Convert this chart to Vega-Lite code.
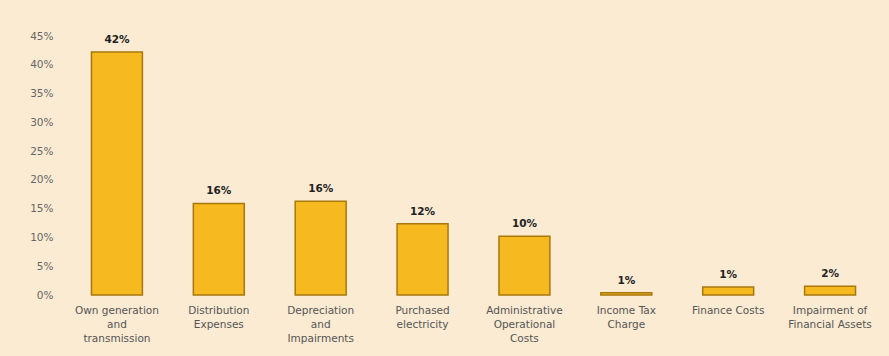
{
  "$schema": "https://vega.github.io/schema/vega-lite/v6.json",
  "autosize": "none",
  "width": 815,
  "height": 259,
  "padding": {"left": 66, "top": 36, "right": 8, "bottom": 61},
  "background": "#FBEBD2",
  "data": {
    "values": [
      {"category": "Own generation|and|transmission", "value": 42.2, "label": "42%"},
      {"category": "Distribution|Expenses", "value": 15.9, "label": "16%"},
      {"category": "Depreciation|and|Impairments", "value": 16.3, "label": "16%"},
      {"category": "Purchased|electricity", "value": 12.4, "label": "12%"},
      {"category": "Administrative|Operational|Costs", "value": 10.2, "label": "10%"},
      {"category": "Income Tax|Charge", "value": 0.4, "label": "1%"},
      {"category": "Finance Costs", "value": 1.4, "label": "1%"},
      {"category": "Impairment of|Financial Assets", "value": 1.5, "label": "2%"}
    ]
  },
  "config": {
    "view": {"stroke": null},
    "font": "DejaVu Sans"
  },
  "encoding": {
    "x": {
      "field": "category",
      "type": "nominal",
      "sort": null,
      "scale": {"paddingInner": 0.5, "paddingOuter": 0.25},
      "axis": {
        "title": null,
        "labelAngle": 0,
        "labelExpr": "split(datum.label, '|')",
        "labelColor": "#555555",
        "labelFontSize": 10.5,
        "labelLineHeight": 14,
        "labelPadding": 10,
        "labelBaseline": "top",
        "domain": false,
        "ticks": false
      }
    },
    "y": {
      "field": "value",
      "type": "quantitative",
      "scale": {"domain": [0, 45], "nice": false},
      "axis": {
        "title": null,
        "values": [0, 5, 10, 15, 20, 25, 30, 35, 40, 45],
        "labelExpr": "datum.value + '%'",
        "labelColor": "#666666",
        "labelFontSize": 10.5,
        "labelPadding": 13,
        "grid": false,
        "domain": false,
        "ticks": false
      }
    }
  },
  "layer": [
    {
      "mark": {"type": "bar", "color": "#F6B91F", "stroke": "#A8780E", "strokeWidth": 1.5}
    },
    {
      "mark": {"type": "text", "baseline": "bottom", "dy": -7, "fontWeight": "bold", "fontSize": 10.5, "color": "#222222"},
      "encoding": {"text": {"field": "label"}}
    }
  ]
}
